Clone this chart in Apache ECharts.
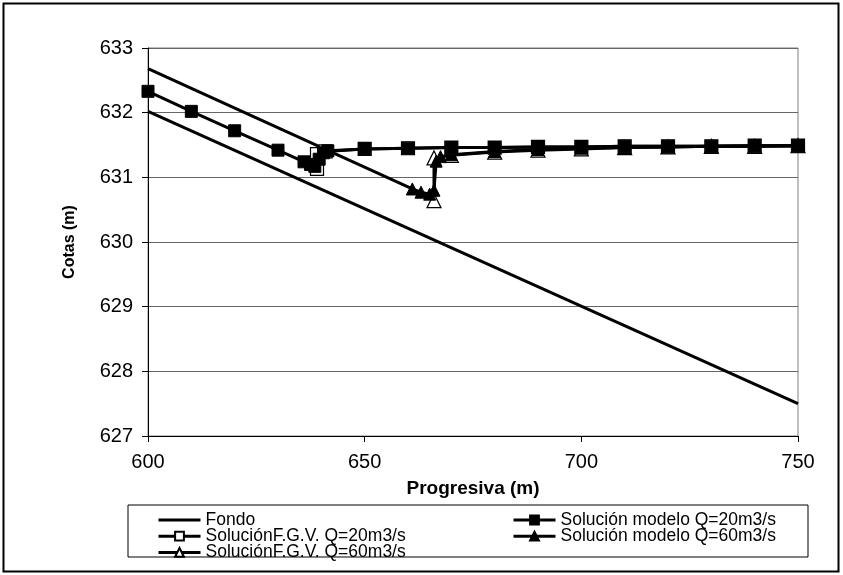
<!DOCTYPE html>
<html>
<head>
<meta charset="utf-8">
<script src="https://cdn.jsdelivr.net/npm/echarts@6/dist/echarts.min.js"></script>
<style>
html,body{margin:0;padding:0;background:#fff;}
#chart{width:843px;height:575px;}
</style>
</head>
<body>
<div id="chart"></div>
<script>
// ---- data ----
const seriesNames = ['Fondo', 'Solución modelo Q=20m3/s', 'SoluciónF.G.V. Q=20m3/s', 'Solución modelo Q=60m3/s', 'SoluciónF.G.V. Q=60m3/s'];

const fondoX = [600, 750];
const fondoY = [632.02, 627.5];

const model20X = [600, 610, 620, 630, 636, 637.5, 638.5, 639.5, 640.5, 641.5, 650, 660, 670, 680, 690, 700, 710, 720, 730, 740, 750];
const model20Y = [632.33, 632.02, 631.72, 631.42, 631.24, 631.2, 631.17, 631.28, 631.38, 631.41, 631.44, 631.45, 631.46, 631.46, 631.47, 631.47, 631.48, 631.48, 631.48, 631.49, 631.49];

const fgv20X = [639, 639, 641, 650, 660, 670, 680, 690, 700, 710, 720, 730, 740, 750];
const fgv20Y = [631.13, 631.36, 631.40, 631.44, 631.45, 631.46, 631.46, 631.47, 631.47, 631.48, 631.48, 631.48, 631.49, 631.49];

const model60X = [600, 661, 663, 665, 666, 666.5, 667.5, 670, 680, 690, 700, 710, 720, 730, 740, 750];
const model60Y = [632.68, 630.82, 630.77, 630.74, 630.8, 631.25, 631.32, 631.35, 631.4, 631.43, 631.45, 631.46, 631.47, 631.48, 631.48, 631.49];

const fgv60X = [666, 666, 670, 680, 690, 700, 710, 720, 730, 740, 750];
const fgv60Y = [630.64, 631.3, 631.34, 631.39, 631.42, 631.44, 631.46, 631.47, 631.48, 631.48, 631.49];

const xTicks = [600, 650, 700, 750];
const yTicks = [627, 628, 629, 630, 631, 632, 633];

// ---- build ----
function pairs(xs, ys) { return xs.map((x, i) => [x, ys[i]]); }
const font = "'Liberation Sans', Arial, sans-serif";

// first point of the Q=60 model line has no visible marker (line enters from the left)
const model60Data = pairs(model60X, model60Y).map((p, i) => i === 0 ? { value: p, symbol: 'none' } : p);

const chart = echarts.init(document.getElementById('chart'), null, { renderer: 'canvas' });

const lineStyle = { color: '#000', width: 3 };
const legendText = { fontFamily: font, fontSize: 17.5, color: '#000', lineHeight: 16 };

chart.setOption({
  animation: false,
  backgroundColor: '#fff',
  textStyle: { fontFamily: font },
  grid: { left: 148, right: 45, top: 48, bottom: 139, show: true, borderColor: '#808080', borderWidth: 1, backgroundColor: 'transparent' },
  xAxis: {
    type: 'value', min: xTicks[0], max: xTicks[xTicks.length - 1], interval: 50,
    name: 'Progresiva (m)', nameLocation: 'middle', nameGap: 43,
    nameTextStyle: { fontFamily: font, fontSize: 19, fontWeight: 'bold', color: '#000' },
    axisLine: { lineStyle: { color: '#000', width: 1 } },
    axisTick: { show: true, length: 6, lineStyle: { color: '#000' } },
    axisLabel: { color: '#000', fontSize: 20, fontFamily: font, margin: 16 },
    splitLine: { show: false }
  },
  yAxis: {
    type: 'value', min: yTicks[0], max: yTicks[yTicks.length - 1], interval: 1,
    name: 'Cotas (m)', nameLocation: 'middle', nameGap: 70, nameRotate: 90,
    nameTextStyle: { fontFamily: font, fontSize: 16, fontWeight: 'bold', color: '#000' },
    axisLine: { show: true, lineStyle: { color: '#000', width: 1 } },
    axisTick: { show: true, length: 6, lineStyle: { color: '#000' } },
    axisLabel: { color: '#000', fontSize: 20, fontFamily: font, margin: 15 },
    splitLine: { show: true, lineStyle: { color: '#666', width: 1 } }
  },
  legend: [
    {
      data: [seriesNames[0], seriesNames[2], seriesNames[4]],
      orient: 'vertical', left: 152, top: 506, itemWidth: 42, itemHeight: 11, itemGap: -1.8,
      lineStyle: { width: 3 },
      textStyle: legendText, selectedMode: false
    },
    {
      data: [seriesNames[1], seriesNames[3]],
      orient: 'vertical', left: 507, top: 506, itemWidth: 42, itemHeight: 11, itemGap: -1.8,
      lineStyle: { width: 3 },
      textStyle: legendText, selectedMode: false
    }
  ],
  graphic: [
    { type: 'rect', shape: { x: 128, y: 505, width: 680, height: 52 }, style: { fill: 'none', stroke: '#000', lineWidth: 1 }, z: 10 },
    { type: 'rect', shape: { x: 3.5, y: 3.5, width: 835, height: 568 }, style: { fill: 'none', stroke: '#000', lineWidth: 2 }, z: 10 }
  ],
  series: [
    {
      name: seriesNames[0], type: 'line', data: pairs(fondoX, fondoY),
      showSymbol: false, symbol: 'rect', lineStyle: lineStyle, itemStyle: { color: 'rgba(0,0,0,0)', borderWidth: 0 }, z: 2
    },
    {
      name: seriesNames[4], type: 'line', data: pairs(fgv60X, fgv60Y),
      symbol: 'triangle', symbolSize: 14, lineStyle: lineStyle,
      itemStyle: { color: '#fff', borderColor: '#000', borderWidth: 1.2 }, z: 3
    },
    {
      name: seriesNames[3], type: 'line', data: model60Data,
      symbol: 'triangle', symbolSize: 12, lineStyle: lineStyle,
      itemStyle: { color: '#000', borderColor: '#000', borderWidth: 1 }, z: 4
    },
    {
      name: seriesNames[2], type: 'line', data: pairs(fgv20X, fgv20Y),
      symbol: 'rect', symbolSize: 13, lineStyle: lineStyle,
      itemStyle: { color: '#fff', borderColor: '#000', borderWidth: 1.2 }, z: 5
    },
    {
      name: seriesNames[1], type: 'line', data: pairs(model20X, model20Y),
      symbol: 'rect', symbolSize: 12, lineStyle: lineStyle,
      itemStyle: { color: '#000', borderColor: '#000', borderWidth: 1 }, z: 6
    }
  ]
});
</script>
</body>
</html>
